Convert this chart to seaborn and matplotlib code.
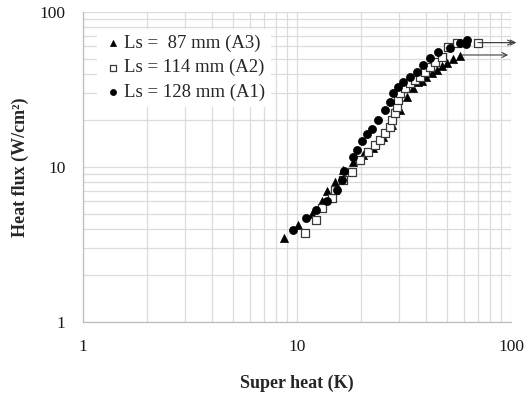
import matplotlib
matplotlib.use("Agg")
import matplotlib.pyplot as plt
import seaborn as sns
import pandas as pd
from matplotlib.ticker import LogLocator, NullFormatter, FixedLocator, FixedFormatter

sns.set_theme(style="white")
plt.rcParams['font.family'] = ['Liberation Serif', 'DejaVu Serif']

# ---- data ----
a3_x = [8.7, 10.1, 11.8, 13.1, 13.8, 15.1, 16.4, 18.3, 20.3, 22.6, 25.2, 27.8, 30.3,
        32.6, 34.9, 36.8, 38.4, 40.1, 42.7, 45.1, 47.6, 50.2, 53.6, 57.8]
a3_y = [3.5, 4.2, 5.0, 6.0, 7.0, 8.0, 9.6, 10.8, 11.9, 13.3, 15.6, 18.7, 23.3,
        28.3, 32.3, 35.3, 35.9, 38.1, 40.4, 42.3, 44.8, 46.9, 49.8, 52.0]

a2_x = [10.9, 12.3, 13.1, 14.6, 15.1, 16.4, 18.1, 19.7, 21.5, 23.1, 24.4, 25.8, 27.2,
        27.8, 28.7, 29.3, 29.7, 30.3, 32.0, 33.7, 35.6, 37.6, 39.6, 41.8, 44.2, 47.6,
        50.8, 55.9, 70.1]
a2_y = [3.75, 4.55, 5.44, 6.31, 7.11, 8.25, 9.29, 11.1, 12.5, 13.9, 14.9, 16.6, 18.1,
        20.1, 22.3, 24.4, 27.1, 30.0, 32.3, 34.8, 36.4, 38.1, 41.0, 44.2, 47.6, 51.3,
        59.5, 63.1, 63.1]

a1_x = [9.58, 11.0, 12.3, 13.8, 15.4, 16.2, 16.6, 18.3, 19.1, 20.1, 21.2, 22.4, 23.9,
        25.8, 27.2, 28.1, 29.7, 31.3, 33.7, 36.4, 38.8, 41.8, 45.6, 51.9, 57.8, 61.6, 62.3]
a1_y = [3.92, 4.69, 5.28, 6.03, 7.11, 8.25, 9.42, 11.6, 12.9, 14.7, 16.3, 17.6, 20.1,
        23.3, 26.3, 30.0, 32.8, 35.3, 38.1, 41.0, 45.5, 50.5, 55.2, 58.6, 63.1, 62.2, 65.9]

labels = ["Ls =  87 mm (A3)", "Ls = 114 mm (A2)", "Ls = 128 mm (A1)"]

# arrows (start x, end x, y)
arrows = [(70.0, 103.0, 63.5), (72.0, 106.0, 63.5), (59.0, 97.0, 52.8)]

xticks = [1, 10, 100]
yticks = [1, 10, 100]

# ---- figure ----
fig = plt.figure(figsize=(5.25, 3.96), dpi=100)
ax = fig.add_axes([83/525, 1 - 322/396, (511 - 83)/525, (322 - 12)/396])

df3 = pd.DataFrame({"x": a3_x, "y": a3_y})
df2 = pd.DataFrame({"x": a2_x, "y": a2_y})
df1 = pd.DataFrame({"x": a1_x, "y": a1_y})

sns.scatterplot(data=df3, x="x", y="y", marker="^", s=34, color="black",
                edgecolor="black", linewidth=0.5, ax=ax, label=labels[0], zorder=3)
sns.scatterplot(data=df2, x="x", y="y", marker="s", s=36, facecolor="white",
                edgecolor="#3a3a3a", linewidth=0.9, ax=ax, label=labels[1], zorder=3)
sns.scatterplot(data=df1, x="x", y="y", marker="o", s=34, color="black",
                edgecolor="black", linewidth=0.5, ax=ax, label=labels[2], zorder=4)

for x0, x1, yv in arrows:
    ax.annotate("", xy=(x1, yv), xytext=(x0, yv),
                arrowprops=dict(arrowstyle="->", color="#404040", lw=0.8,
                                shrinkA=0, shrinkB=0, mutation_scale=9),
                annotation_clip=False, zorder=5)

ax.set_xscale("log")
ax.set_yscale("log")
ax.set_xlim(1, 100)
ax.set_ylim(1, 100)

ax.xaxis.set_major_locator(FixedLocator(xticks))
ax.xaxis.set_major_formatter(FixedFormatter([str(t) for t in xticks]))
ax.yaxis.set_major_locator(FixedLocator(yticks))
ax.yaxis.set_major_formatter(FixedFormatter([str(t) for t in yticks]))
ax.xaxis.set_minor_locator(LogLocator(base=10, subs=range(2, 10)))
ax.yaxis.set_minor_locator(LogLocator(base=10, subs=range(2, 10)))
ax.xaxis.set_minor_formatter(NullFormatter())
ax.yaxis.set_minor_formatter(NullFormatter())

ax.grid(True, which="both", color="#dcdcdc", linewidth=0.9)
ax.set_axisbelow(True)

for side in ["left", "bottom"]:
    ax.spines[side].set_color("#bdbdbd")
    ax.spines[side].set_linewidth(0.9)
for side in ["top", "right"]:
    ax.spines[side].set_visible(False)

ax.tick_params(which="major", direction="inout", length=7, width=0.9,
               color="#bdbdbd", labelsize=12.5, labelcolor="#1a1a1a")
ax.tick_params(axis="y", which="major", pad=9)
ax.tick_params(axis="x", which="major", pad=9)
ax.tick_params(which="minor", length=0)

ax.set_xlabel("Super heat (K)", fontsize=13, fontweight="bold", labelpad=14)
ax.set_ylabel("Heat flux (W/cm²)", fontsize=13, fontweight="bold", labelpad=8)

leg = ax.legend(loc="upper left", bbox_to_anchor=(0.01, 0.975), fontsize=13.5,
                frameon=True, fancybox=False, edgecolor="white", framealpha=1,
                handletextpad=0.05, handlelength=1.1, borderpad=0.3,
                labelspacing=0.38, markerscale=0.75)
leg.get_frame().set_linewidth(0)

fig.savefig("out.png", dpi=100)
